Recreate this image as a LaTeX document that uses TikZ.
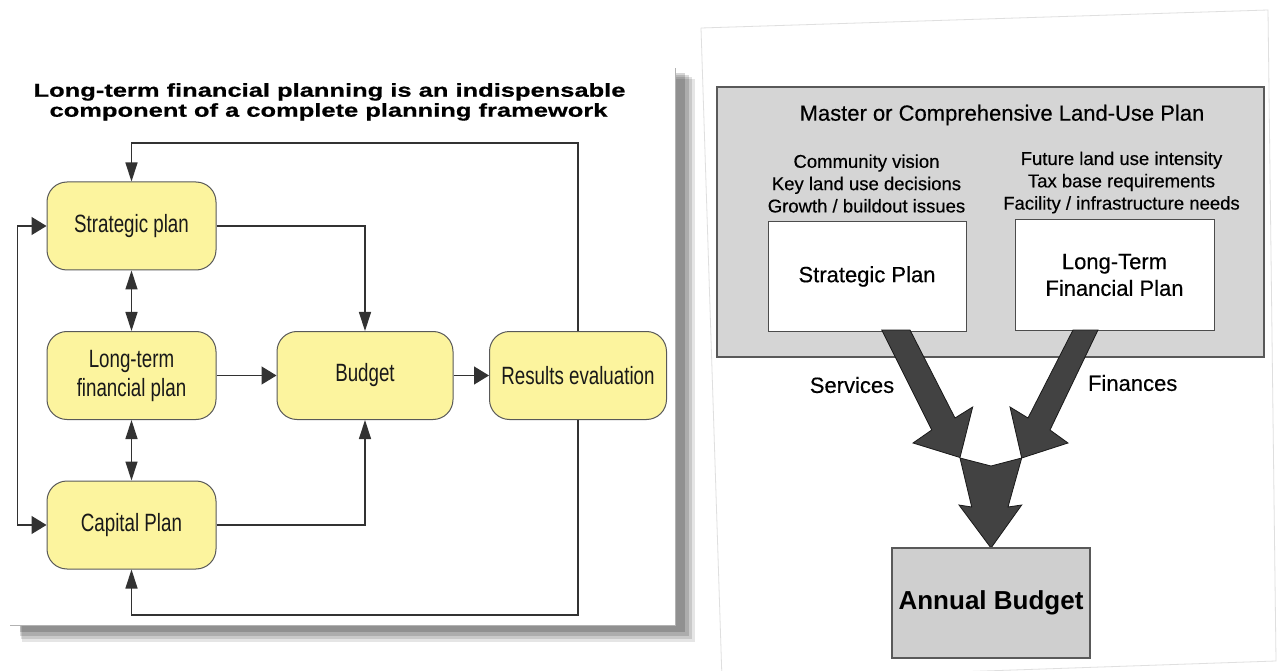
\documentclass[tikz,border=0pt]{standalone}
\usepackage{fontspec}
\setmainfont{Liberation Sans}
\newfontfamily\titlefont[FakeStretch=1.37, BoldFeatures={FakeBold=0.7}]{Liberation Sans}
\newfontfamily\narrowfont[FakeStretch=0.75]{Liberation Sans}
\newfontfamily\scanfont[FakeBold=0.35]{Liberation Sans}
\usetikzlibrary{arrows.meta,calc}
\definecolor{lyellow}{RGB}{252,244,158}
\definecolor{lineg}{RGB}{50,50,50}
\begin{document}
\begin{tikzpicture}[x=1pt,y=-1pt,
  vtip/.tip={Triangle[length=19pt,width=12pt]},
  htip/.tip={Triangle[length=15pt,width=18pt]},
  lbox/.style={draw=black!65, fill=lyellow, rounded corners=20pt, line width=1pt,
     minimum width=169pt, minimum height=88pt, inner sep=0pt, align=center,
     text=black!90, font=\narrowfont\fontsize{25}{29}\selectfont},
  conn/.style={draw=lineg, line width=1.3pt},
  ttl/.style={anchor=base, inner sep=0pt, font=\titlefont\bfseries\fontsize{18.6}{20}\selectfont},
  rtext/.style={inner sep=0pt, align=center, font=\scanfont\fontsize{18.5}{22.3}\selectfont},
  wbox/.style={draw=black!70, fill=white, line width=1pt, inner sep=0pt, align=center,
     minimum width=198pt, minimum height=110pt, font=\scanfont\fontsize{22}{26.7}\selectfont},
  bigarrow/.style={fill=black!74, draw=black!90, line width=0.8pt, line join=miter},
  lbl/.style={inner sep=0pt, font=\scanfont\fontsize{22}{26}\selectfont}
]
\useasboundingbox (0,0) rectangle (1278,671);
\fill[white] (0,0) rectangle (1278,671);

% ---------- left panel shadow and sheet ----------
\fill[black, opacity=0.10] (22,79) rectangle (695,642);
\fill[black, opacity=0.12] (21,77) rectangle (692,639);
\fill[black, opacity=0.14] (20,75) rectangle (689,636);
\fill[black, opacity=0.16] (20,73) rectangle (685,632);
\fill[white] (10,68) rectangle (675,625);
\draw[gray!60, line width=0.8pt] (10,625) -- (675,625) -- (675,68);

% ---------- left diagram ----------
\node[ttl] (t1) at (329.5,96.7) {Long-term financial planning is an indispensable};
\node[ttl] (t2) at (328.5,116.7) {component of a complete planning framework};

\node[lbox] (S) at (131.5,226) {Strategic plan};
\node[lbox] (L) at (131.5,375.5) {Long-term\\financial plan};
\node[lbox] (C) at (131.5,525) {Capital Plan};
\node[lbox, minimum width=176pt] (B) at (365,375.5) {Budget};
\node[lbox, minimum width=177pt] (R) at (578,375.5) {Results evaluation};

\coordinate (topy) at (0,143);
\coordinate (boty) at (0,615);
\coordinate (leftx) at (17.5,0);

\draw[conn,-vtip] (R.north) -- (R.north |- topy) -| (S.north);
\draw[conn,-vtip] (S.east) -| (B.north);
\draw[conn,-vtip] (C.east) -| (B.south);
\draw[conn,-htip] (L.east) -- (B.west);
\draw[conn,-htip] (B.east) -- (R.west);
\draw[conn,vtip-vtip] (S.south) -- (L.north);
\draw[conn,vtip-vtip] (L.south) -- (C.north);
\draw[conn,htip-htip] (S.west) -- (S.west -| leftx) -- (C.west -| leftx) -- (C.west);
\draw[conn,-vtip] (R.south) -- (R.south |- boty) -| (C.south);

% ---------- right panel (scanned page) ----------
\fill[white] (701,28) -- (1268,10) -- (1276,661) -- (722,680) -- cycle;
\draw[gray!25, line width=0.8pt] (701,28) -- (1268,10) -- (1276,661) -- (722,680);
\draw[gray!25, line width=0.8pt] (701,28) -- (722,680);

\node[draw=black!65, fill=gray!33, line width=1.1pt, minimum width=547pt, minimum height=270pt, inner sep=0pt]
  (M) at (990.5,222) {};
\node[lbl] (Mt) at (1002,115) {Master or Comprehensive Land-Use Plan};
\node[rtext] (lt) at (866.5,183.5) {Community vision\\Key land use decisions\\Growth / buildout issues};
\node[rtext] (rt) at (1121.5,182.5) {Future land use intensity\\Tax base requirements\\Facility / infrastructure needs};

\node[wbox] (SP) at (867,276.5) {Strategic Plan};
\node[wbox, minimum width=199pt] (LF) at (1114.5,275) {Long-Term\\Financial Plan};

% block arrows
\filldraw[bigarrow] (881.7,330) -- (910,330) -- (955,418) -- (972.7,407) -- (960,457.5)
   -- (913,443) -- (931.7,430) -- cycle;
\filldraw[bigarrow] (1073,330) -- (1098,330) -- (1050,430) -- (1068,443) -- (1021.7,458)
   -- (1010,407) -- (1028,418) -- cycle;
\filldraw[bigarrow] (960,458) -- (991,466) -- (1021.7,458) -- (1008,507) -- (1021.7,505)
   -- (991,548) -- (959,505) -- (971.7,507) -- cycle;

\node[lbl] (sv) at (852,385) {Services};
\node[lbl] (fn) at (1132.7,383) {Finances};

\node[draw=black!65, fill=gray!38, line width=1.1pt, minimum width=198pt, minimum height=110pt,
  inner sep=0pt, font=\bfseries\fontsize{26}{30}\selectfont] (AB) at (991,603) {Annual Budget};
\end{tikzpicture}
\end{document}
